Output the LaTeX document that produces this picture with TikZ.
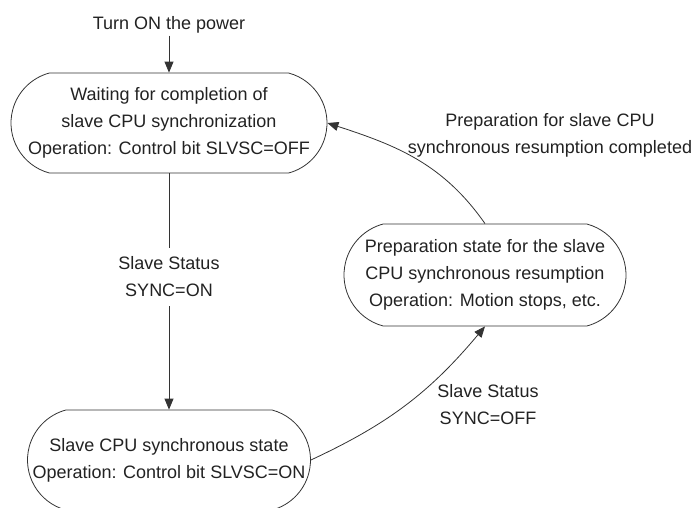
\documentclass[tikz,border=0pt]{standalone}
\usepackage{fontspec}
\setmainfont{Liberation Sans}
\usetikzlibrary{arrows.meta,shapes.misc}
\definecolor{linegray}{HTML}{333333}
\definecolor{textgray}{HTML}{222222}
\tikzset{
  statebox/.style={rounded rectangle, rounded rectangle arc length=150, draw=linegray, line width=0.8pt,
    text=textgray, align=center, inner sep=2pt, font=\fontsize{18}{27}\selectfont},
  edgetext/.style={text=textgray, align=center, inner sep=2pt, font=\fontsize{18}{27}\selectfont},
  flow/.style={draw=linegray, line width=0.8pt, -{Triangle[length=11pt,width=9pt]}}
}
\begin{document}
\begin{tikzpicture}[x=1pt,y=-1pt]
\useasboundingbox (0,0) rectangle (697,507);

% Encendido
\node [edgetext] (power) at (169,25) {Turn ON the power};

% Estados
\node [statebox, minimum width=320pt, minimum height=100pt] (wait) at (169,123)
  {Waiting for completion of\\slave CPU synchronization\\Operation: Control bit SLVSC=OFF};
\node [statebox, minimum width=287pt, minimum height=100pt] (sync) at (169,460)
  {Slave CPU synchronous state\\Operation: Control bit SLVSC=ON};
\node [statebox, minimum width=286pt, minimum height=102pt] (prep) at (485,275)
  {Preparation state for the slave\\CPU synchronous resumption\\Operation: Motion stops, etc.};

% Transiciones
\draw [flow] (power.south) -- (wait.north);
\draw [flow] (wait.south) -- (sync.north);
\node [edgetext, fill=white, inner sep=9pt] (syncon) at (169,277) {Slave Status\\SYNC=ON};
\draw [flow] (sync.east) to[out=25, in=-130] (prep.south);
\node [edgetext] (syncoff) at (488,405) {Slave Status\\SYNC=OFF};
\draw [flow] (prep.north) to[out=125, in=-18] (wait.east);
\node [edgetext] (ready) at (550,135) {Preparation for slave CPU\\synchronous resumption completed};
\end{tikzpicture}
\end{document}
